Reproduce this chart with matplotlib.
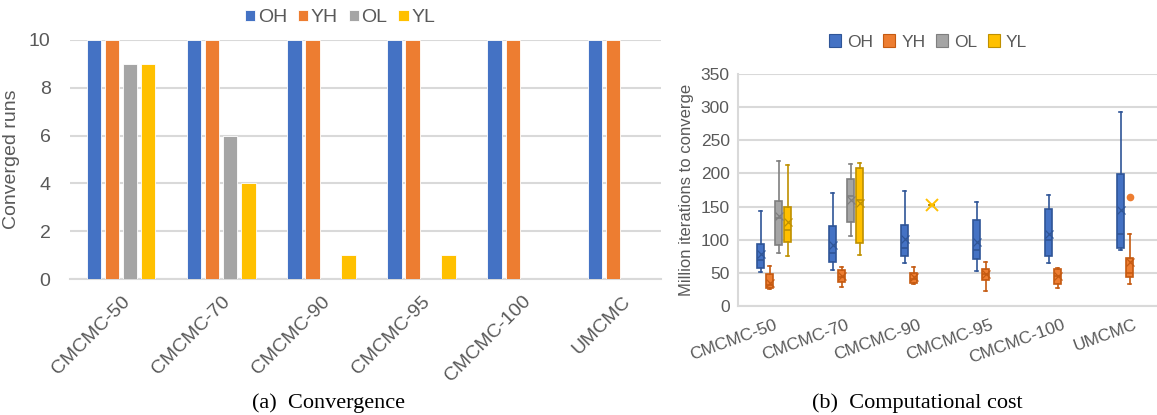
import matplotlib
matplotlib.use("Agg")
import matplotlib.pyplot as plt
from matplotlib.patches import Patch
import numpy as np

plt.rcParams['font.family'] = ['Liberation Sans', 'DejaVu Sans']

categories = ["CMCMC-50", "CMCMC-70", "CMCMC-90", "CMCMC-95", "CMCMC-100", "UMCMC"]
series = ["OH", "YH", "OL", "YL"]

# (a) converged runs
conv_OH = [10, 10, 10, 10, 10, 10]
conv_YH = [10, 10, 10, 10, 10, 10]
conv_OL = [9, 6, 0, 0, 0, 0]
conv_YL = [9, 4, 1, 1, 0, 0]

# (b) box stats per category: (whisker low, q1, median, q3, whisker high, mean)
box_OH = [(52, 58, 70, 93, 143, 78),
          (54, 67, 80, 120, 170, 92),
          (65, 75, 88, 122, 174, 101),
          (53, 71, 84, 130, 157, 96),
          (65, 75, 99, 147, 168, 109),
          (84, 87, 109, 199, 292, 145)]
box_YH = [(25, 27, 31, 48, 60, 35),
          (29, 36, 44, 55, 59, 46),
          (33, 35, 41, 50, 59, 43),
          (23, 39, 48, 56, 67, 48),
          (27, 33, 46, 56, 58, 45),
          (33, 43, 50, 73, 109, 66)]
box_OL = [(80, 92, 133, 158, 218, 136),
          (105, 126, 166, 191, 214, 160),
          None, None, None, None]
box_YL = [(75, 97, 114, 150, 212, 127),
          (77, 95, 160, 208, 216, 155),
          (153, 153, 153, 153, 153, 153),
          None, None, None]
fliers_YH = [[], [], [], [], [], [164]]

fill = {"OH": "#4472C4", "YH": "#ED7D31", "OL": "#A5A5A5", "YL": "#FFC000"}
edge = {"OH": "#2F5597", "YH": "#C55A11", "OL": "#7F7F7F", "YL": "#BF9000"}
txt = "#595959"
grid = "#D9D9D9"

W, H = 1157, 415
fig = plt.figure(figsize=(W / 100, H / 100), dpi=100)

def ax_rect(x0, x1, ytop, ybot):
    return [x0 / W, (H - ybot) / H, (x1 - x0) / W, (ybot - ytop) / H]

# ---------- (a) ----------
ax1 = fig.add_axes(ax_rect(70, 661, 40, 279))
conv = {"OH": conv_OH, "YH": conv_YH, "OL": conv_OL, "YL": conv_YL}
x = np.arange(len(categories))
slot = 0.18
for i, s in enumerate(series):
    vals = np.array(conv[s], dtype=float)
    ax1.bar(x + (i - 1.5) * slot, vals, width=0.145, color=fill[s],
            edgecolor="white", linewidth=0.6, zorder=3, label=s)
ax1.set_ylim(0, 10)
ax1.set_xlim(-0.509, 5.389)
ax1.set_yticks(range(0, 11, 2))
ax1.yaxis.grid(True, color=grid, linewidth=1.5, zorder=0)
ax1.set_axisbelow(True)
for sp in ["top", "right", "left"]:
    ax1.spines[sp].set_visible(False)
ax1.spines["bottom"].set_color(grid)
ax1.spines["bottom"].set_linewidth(1.5)
ax1.tick_params(axis="both", length=0, colors=txt, labelsize=14)
ax1.tick_params(axis="y", pad=14)
ax1.set_xticks(x)
ax1.set_xticklabels(categories, rotation=45, ha="right", rotation_mode="anchor")
ax1.tick_params(axis="x", pad=10)
ax1.set_ylabel("Converged runs", color=txt, fontsize=14, labelpad=6)
ax1.legend(loc="center", bbox_to_anchor=(340 / W, (H - 18) / H),
           bbox_transform=fig.transFigure, ncol=4, frameon=False,
           fontsize=14, handlelength=0.55, handleheight=0.55,
           handletextpad=0.12, columnspacing=0.55, labelcolor=txt)

# ---------- (b) ----------
ax2 = fig.add_axes(ax_rect(738, 1170, 74, 306))
boxes = {"OH": box_OH, "YH": box_YH, "OL": box_OL, "YL": box_YL}
bslot = 0.125
for i, s in enumerate(series):
    stats, pos = [], []
    for k, b in enumerate(boxes[s]):
        if b is None:
            continue
        wlo, q1, med, q3, whi, mean = b
        fl = fliers_YH[k] if s == "YH" else []
        stats.append(dict(whislo=wlo, q1=q1, med=med, q3=q3, whishi=whi,
                          mean=mean, fliers=fl))
        pos.append(k + (i - 1.5) * bslot)
    res = ax2.bxp(stats, positions=pos, widths=0.11, capwidths=0.03,
                  patch_artist=True, showmeans=True, manage_ticks=False,
                  boxprops=dict(facecolor=fill[s], edgecolor=edge[s], linewidth=1.2),
                  medianprops=dict(color=edge[s], linewidth=1.2),
                  whiskerprops=dict(color=edge[s], linewidth=1.2),
                  capprops=dict(color=edge[s], linewidth=1.2),
                  meanprops=dict(marker="x", markeredgecolor=edge[s], markersize=5.5,
                                 markeredgewidth=0.9),
                  flierprops=dict(marker="o", markerfacecolor=fill[s],
                                  markeredgecolor=fill[s], markersize=4.5),
                  zorder=3)
    for st, m in zip(stats, res["means"]):
        if st["q1"] == st["q3"]:
            m.set_markersize(9)
            m.set_markeredgewidth(1.4)
            m.set_markeredgecolor(fill[s])
ax2.set_ylim(0, 350)
ax2.set_xlim(-0.5, 5.5)
ax2.set_yticks(range(0, 351, 50))
ax2.yaxis.grid(True, color=grid, linewidth=1.5, zorder=0)
ax2.set_axisbelow(True)
for sp in ["top", "right"]:
    ax2.spines[sp].set_visible(False)
for sp in ["left", "bottom"]:
    ax2.spines[sp].set_color(grid)
    ax2.spines[sp].set_linewidth(1.5)
ax2.tick_params(axis="both", length=0, colors=txt, labelsize=12.5)
ax2.tick_params(axis="y", pad=6)
ax2.set_xticks(x)
ax2.set_xticklabels(categories, rotation=20, ha="right", rotation_mode="anchor")
ax2.tick_params(axis="x", pad=8)
ax2.set_ylabel("Million iterations to converge", color=txt, fontsize=12,
               labelpad=5)
handles = [Patch(facecolor=fill[s], edgecolor=edge[s], linewidth=0.8, label=s)
           for s in series]
ax2.legend(handles=handles, loc="center", bbox_to_anchor=(928 / W, (H - 42) / H),
           bbox_transform=fig.transFigure, ncol=4, frameon=False,
           fontsize=12.5, handlelength=0.7, handleheight=0.7,
           handletextpad=0.35, columnspacing=0.6, labelcolor=txt)

# captions
fig.text(329 / W, (H - 403) / H, "(a)  Convergence", ha="center", va="center",
         family=["Liberation Serif", "DejaVu Serif"], fontsize=16)
fig.text(917 / W, (H - 403) / H, "(b)  Computational cost", ha="center",
         va="center", family=["Liberation Serif", "DejaVu Serif"], fontsize=16)

fig.savefig("out.png", dpi=100)
